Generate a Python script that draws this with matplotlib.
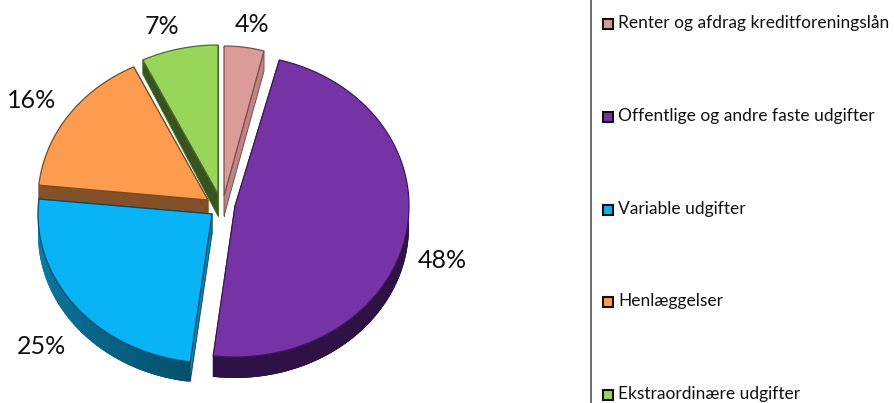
import numpy as np
import matplotlib
matplotlib.use("Agg")
import matplotlib.pyplot as plt
from matplotlib.patches import Polygon, Rectangle
from matplotlib.colors import to_rgb

categories = ["Renter og afdrag kreditforeningslån", "Offentlige og andre faste udgifter",
              "Variable udgifter", "Henlæggelser", "Ekstraordinære udgifter"]
values = [4.1, 47.9, 24.6, 16.2, 7.2]
labels = ["4%", "48%", "25%", "16%", "7%"]

top_colors = ["#DC9A98", "#7533A5", "#08B4F6", "#FD9C4E", "#97D658"]
edge_colors = ["#7A5050", "#3C1A58", "#0A4A66", "#7A4A20", "#4A6A30"]
side_colors = ["#BE8583", "#2E1246", "#0E86B4", "#84502A", "#37531F"]
rim_end_colors = ["#BE8583", "#2E1246", "#04506C", "#84502A", "#37531F"]
apex_x = [224, 235, 212, 208, 218]
apex_y = [196, 206, 214, 200, 194]
rx = [157, 174, 174, 170, 172]
ry = [150, 151, 149, 148, 149]
depth_outer = [20, 21, 20, 15, 14]
depth_apex = [20, 21, 20, 14, 22]
label_xy = [(252, 24), (442, 260), (41, 346), (32, 101), (162, 27)]
legend_y = [24, 117, 210, 302, 395]
draw_order = [0, 4, 3, 1, 2]

fig = plt.figure(figsize=(8.94, 4.03), dpi=100)
ax = fig.add_axes([0, 0, 1, 1])
ax.set_xlim(0, 894)
ax.set_ylim(403, 0)
ax.axis("off")

ends = np.cumsum(values) / np.sum(values) * 360.0
starts = np.concatenate([[0], ends[:-1]])

for i in draw_order:
    t = np.radians(np.linspace(starts[i], ends[i], 120))
    px = apex_x[i] + rx[i] * np.sin(t)
    py = apex_y[i] - ry[i] * np.cos(t)
    ax_, ay_ = apex_x[i], apex_y[i]
    z = draw_order.index(i) * 0.1
    # cut faces
    for k in (0, -1):
        ax.add_patch(Polygon([(ax_, ay_), (px[k], py[k]),
                              (px[k], py[k] + depth_outer[i]), (ax_, ay_ + depth_apex[i])],
                             closed=True, fc=side_colors[i], ec=edge_colors[i], lw=0.7, zorder=2 + z))
    # rim, shaded along the arc; each quad overlaps the next so no seams appear
    c0, c1 = np.array(to_rgb(side_colors[i])), np.array(to_rgb(rim_end_colors[i]))
    for j in range(len(t) - 1):
        if np.cos(t[j]) > 0.05:
            continue
        f = j / (len(t) - 2)
        f = 1 - f if i == 2 else f
        col = c0 + (c1 - c0) * f
        n = min(j + 3, len(t) - 1)
        ax.add_patch(Polygon([(px[j], py[j]), (px[n], py[n]),
                              (px[n], py[n] + depth_outer[i]), (px[j], py[j] + depth_outer[i])],
                             closed=True, fc=col, ec="none", zorder=2.05 + z))
    # top face
    ax.add_patch(Polygon(np.vstack([[ax_, ay_], np.column_stack([px, py])]), closed=True,
                         fc=top_colors[i], ec=edge_colors[i], lw=0.9, zorder=2.08 + z))
    ax.text(*label_xy[i], labels[i], fontsize=18, family="Lato", color="#111111",
            ha="center", va="center", zorder=5)

# legend
ax.plot([591, 591], [0, 403], color="#555555", lw=1.2, zorder=1)
for i, name in enumerate(categories):
    y = legend_y[i]
    ax.add_patch(Rectangle((602.5, y - 5.5), 10.5, 10.5, fc=top_colors[i], ec="#111111", lw=1.5, zorder=3))
    ax.text(618, y - 1, name, fontsize=12.5, family="Lato", color="#111111", ha="left", va="center", zorder=5)

fig.savefig("out.png", dpi=100, facecolor="white")
